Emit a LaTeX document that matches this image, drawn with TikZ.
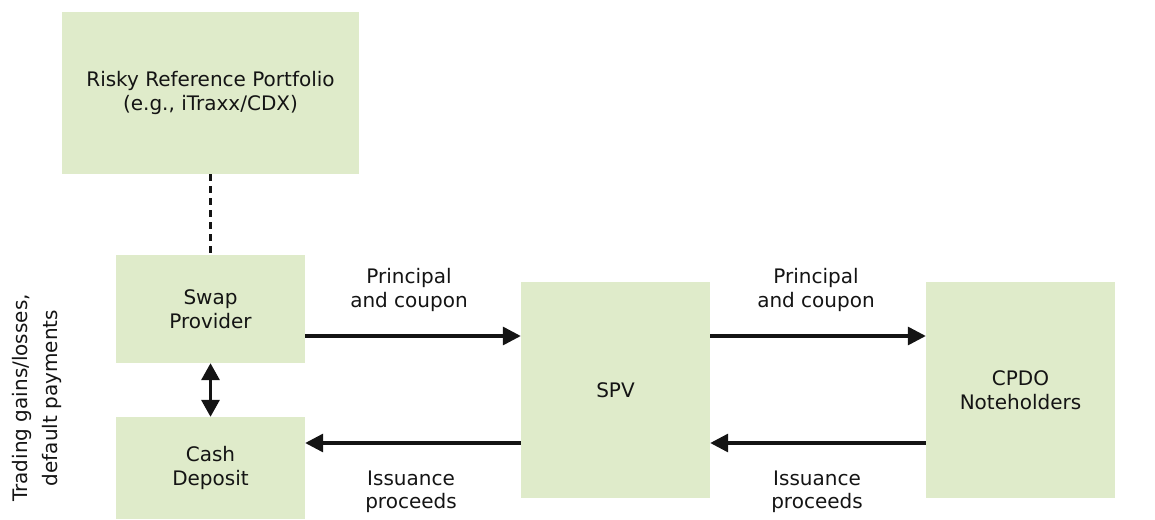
\documentclass[tikz,border=0pt]{standalone}
\usepackage{fontspec}
\setmainfont{DejaVu Sans}
\usetikzlibrary{arrows.meta}
\definecolor{boxgreen}{RGB}{223,235,202}
\definecolor{inkc}{RGB}{20,20,20}
\begin{document}
\begin{tikzpicture}[x=1pt,y=-1pt,
  font=\fontsize{20}{23.5}\selectfont,
  blk/.style={fill=boxgreen,draw=none,inner sep=0pt,align=center,text=inkc},
  flow/.style={draw=inkc,line width=3.3pt,-{Triangle[length=18pt,width=18pt]}},
  both/.style={draw=inkc,line width=3.3pt,{Triangle[length=17pt,width=18pt]}-{Triangle[length=17pt,width=18pt]}},
  lbl/.style={align=center,text=inkc,inner sep=0pt}]
\useasboundingbox (0,0) rectangle (1155,519);

% boxes
\node[blk,minimum width=297pt,minimum height=162pt] (ref) at (210.5,93) {Risky Reference Portfolio\\(e.g., iTraxx/CDX)};
\node[blk,minimum width=189pt,minimum height=108pt] (swap) at (210.5,309) {Swap\\Provider};
\node[blk,minimum width=189pt,minimum height=102pt] (cash) at (210.5,468) {Cash\\Deposit};
\node[blk,minimum width=189pt,minimum height=216pt] (spv) at (615.5,390) {SPV};
\node[blk,minimum width=189pt,minimum height=216pt] (cpdo) at (1020.5,390) {CPDO\\Noteholders};

% connectors
\draw[draw=inkc,line width=2.2pt,dash pattern=on 7pt off 5pt] (ref.south) -- (swap.north);
\draw[both] (swap.south) -- (cash.north);
\draw[flow] (swap.east |- 0,336) -- (spv.west |- 0,336);
\draw[flow] (spv.east |- 0,336) -- (cpdo.west |- 0,336);
\draw[flow] (spv.west |- 0,443) -- (cash.east |- 0,443);
\draw[flow] (cpdo.west |- 0,443) -- (spv.east |- 0,443);

% labels
\node[lbl] (l1) at (409,290) {Principal\\and coupon};
\node[lbl] (l2) at (816,290) {Principal\\and coupon};
\node[lbl] (l3) at (411,492) {Issuance\\proceeds};
\node[lbl] (l4) at (817,492) {Issuance\\proceeds};
\node[lbl,rotate=90,font=\fontsize{20}{30}\selectfont] (side) at (37,398) {Trading gains/losses,\\default payments};
\end{tikzpicture}
\end{document}
